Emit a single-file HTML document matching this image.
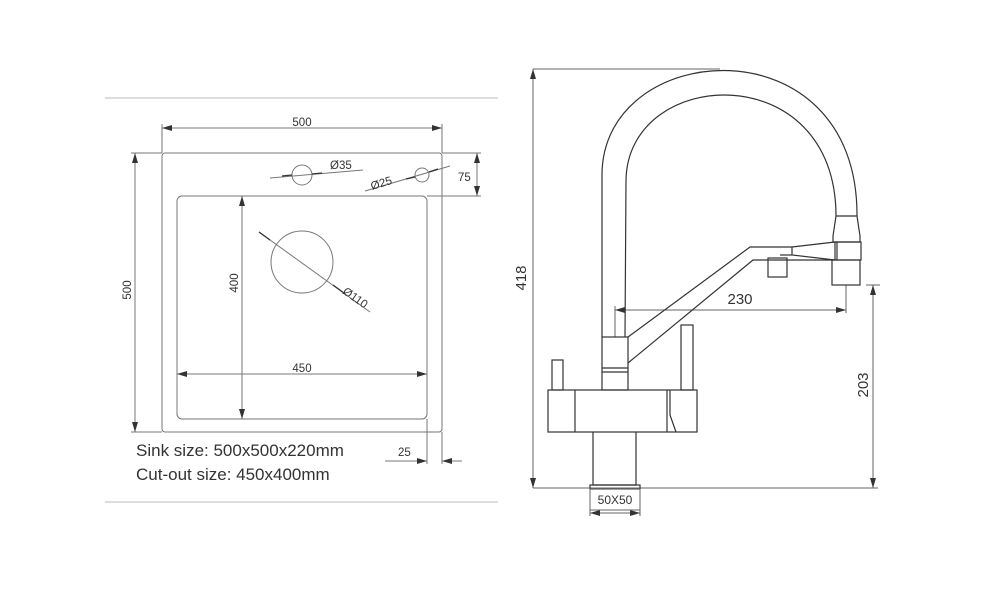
<!DOCTYPE html>
<html><head><meta charset="utf-8"><style>
html,body{margin:0;padding:0;background:#fff;}
svg{display:block;}
text{font-family:"Liberation Sans",sans-serif;fill:#333;}
</style></head><body>
<svg width="1000" height="600" viewBox="0 0 1000 600" xmlns="http://www.w3.org/2000/svg">
<defs>
<marker id="a" viewBox="0 0 10 6" refX="10" refY="3" markerWidth="10" markerHeight="6" orient="auto-start-reverse" markerUnits="userSpaceOnUse"><path d="M0,0 L10,3 L0,6 Z" fill="#333"/></marker>
</defs>
<g fill="none" stroke="#777" stroke-width="1">
<line x1="105" y1="98" x2="498" y2="98" stroke="#bbb"/>
<line x1="105" y1="502" x2="498" y2="502" stroke="#bbb"/>
<rect x="162" y="153" width="280" height="279" rx="3"/>
<rect x="177" y="196" width="250" height="223" rx="5"/>
<line x1="162" y1="128" x2="442" y2="128" marker-start="url(#a)" marker-end="url(#a)"/>
<line x1="162" y1="124" x2="162" y2="153"/><line x1="442" y1="124" x2="442" y2="153"/>
<line x1="135" y1="153" x2="135" y2="432" marker-start="url(#a)" marker-end="url(#a)"/>
<line x1="131" y1="153" x2="162" y2="153"/><line x1="131" y1="432" x2="162" y2="432"/>
<line x1="242" y1="196" x2="242" y2="419" marker-start="url(#a)" marker-end="url(#a)"/>
<line x1="177" y1="374" x2="427" y2="374" marker-start="url(#a)" marker-end="url(#a)"/>
<circle cx="302" cy="262" r="31"/>
<line x1="259" y1="232" x2="370" y2="312"/>
<circle cx="302" cy="175" r="10"/>
<line x1="270" y1="178" x2="363" y2="170"/>
<circle cx="422" cy="175" r="7"/>
<line x1="365" y1="191" x2="450" y2="166"/>
<line x1="477" y1="153" x2="477" y2="196" marker-start="url(#a)" marker-end="url(#a)"/>
<line x1="442" y1="153" x2="481" y2="153"/><line x1="427" y1="196" x2="481" y2="196"/>
<line x1="427" y1="419" x2="427" y2="464"/><line x1="442" y1="432" x2="442" y2="464"/>
<line x1="385" y1="461" x2="427" y2="461" marker-end="url(#a)"/>
<line x1="462" y1="461" x2="442" y2="461" marker-end="url(#a)"/>
</g>
<g stroke="#333" stroke-width="1.3">
<line x1="259" y1="232" x2="270" y2="240"/><line x1="333" y1="285" x2="344" y2="293"/>
<line x1="282" y1="176" x2="292" y2="175"/><line x1="312" y1="174" x2="322" y2="173"/>
<line x1="406" y1="179" x2="415" y2="177"/><line x1="429" y1="172" x2="438" y2="169"/>
</g>
<g font-size="11.5">
<text x="302" y="126" text-anchor="middle">500</text>
<text transform="translate(131,290) rotate(-90)" text-anchor="middle">500</text>
<text transform="translate(238,283) rotate(-90)" text-anchor="middle">400</text>
<text x="302" y="372" text-anchor="middle">450</text>
<text x="330" y="169">Ø35</text>
<text transform="translate(372,190) rotate(-17)">Ø25</text>
<text transform="translate(342,293) rotate(35)">Ø110</text>
<text x="458" y="181">75</text>
<text x="398" y="456">25</text>
</g>
<text x="136" y="456" font-size="17">Sink size: 500x500x220mm</text>
<text x="136" y="480" font-size="17">Cut-out size: 450x400mm</text>

<g fill="none" stroke="#666" stroke-width="1">
<line x1="533" y1="69" x2="533" y2="488" marker-start="url(#a)" marker-end="url(#a)"/>
<line x1="533" y1="69" x2="720" y2="69"/>
<line x1="533" y1="488" x2="878" y2="488"/>
<line x1="615" y1="310" x2="846" y2="310" marker-start="url(#a)" marker-end="url(#a)"/>
<line x1="615" y1="306" x2="615" y2="337"/><line x1="846" y1="285" x2="846" y2="313"/>
<line x1="873" y1="285" x2="873" y2="488" marker-start="url(#a)" marker-end="url(#a)"/>
<line x1="866" y1="285" x2="880" y2="285"/>
<line x1="590" y1="513" x2="640" y2="513" marker-start="url(#a)" marker-end="url(#a)"/>
<line x1="590" y1="488" x2="590" y2="516"/><line x1="640" y1="488" x2="640" y2="516"/>
</g>
<g fill="none" stroke="#333" stroke-width="1.2">
<path d="M602,337 L602,175 C602,38 858,20 857,216"/>
<path d="M625,337 L626,180 C628,66 836,56 836,216"/>
<path d="M836,216 L857,216 L860,236 L860,242 L833,242 L833,236 Z"/>
<rect x="835" y="242" width="26" height="18"/>
<line x1="837" y1="242" x2="837" y2="260"/>
<rect x="832" y="260" width="28" height="25"/>
<path d="M628,337 L750,247 L792,247 L835,242"/>
<path d="M628,363 L753,260 L835,260"/>
<path d="M792,247 L792,255 L835,260"/>
<path d="M792,255 L780,255"/>
<rect x="768" y="258" width="19" height="19"/>
<rect x="602" y="337" width="26" height="53"/>
<line x1="602" y1="368" x2="628" y2="368"/><line x1="602" y1="372" x2="628" y2="372"/>
<rect x="552" y="360" width="11" height="30"/>
<rect x="681" y="325" width="12" height="65"/>
<rect x="548" y="390" width="149" height="42"/>
<line x1="575" y1="390" x2="575" y2="432"/>
<line x1="667" y1="390" x2="667" y2="432"/>
<path d="M670,390 L670,415 L676,432"/>
<path d="M593,432 L593,485 L636,485 L636,432"/>
<rect x="590" y="485" width="50" height="4"/>
<rect x="590" y="489" width="50" height="21" stroke="#666" stroke-width="1"/>
</g>
<g font-size="15" fill="#444">
<text transform="translate(526,278) rotate(-90)" text-anchor="middle">418</text>
<text x="740" y="304" text-anchor="middle">230</text>
<text transform="translate(868,385) rotate(-90)" text-anchor="middle">203</text>
</g>
<text x="615" y="504" font-size="12" text-anchor="middle">50X50</text>
</svg>
</body></html>
